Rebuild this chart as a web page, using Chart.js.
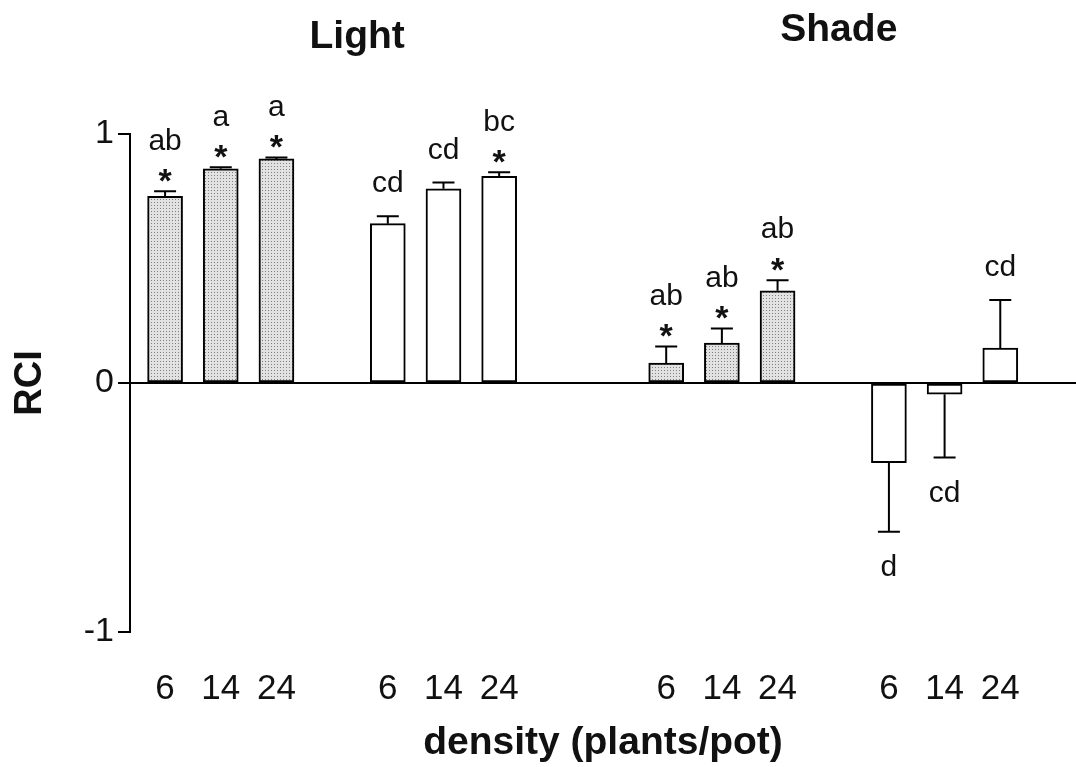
<!DOCTYPE html>
<html><head><meta charset="utf-8">
<script src="https://cdn.jsdelivr.net/npm/chart.js@4/dist/chart.umd.min.js"></script>
<style>html,body{margin:0;padding:0;background:#fff}#wrap{width:1076px;height:767px}</style>
</head><body><div id="wrap"><canvas id="c" width="1076" height="767"></canvas></div>
<script>
// ---- data ----
const categories = ['6','14','24','','6','14','24','','','6','14','24','','6','14','24'];
const rci        = [0.75,0.86,0.90,null,0.64,0.78,0.83,null,null,0.08,0.16,0.37,null,-0.32,-0.045,0.14];
const errors     = [0.02,0.006,0.006,null,0.03,0.025,0.016,null,null,0.067,0.059,0.043,null,0.277,0.254,0.193];
const letters    = ['ab','a','a','','cd','cd','bc','','','ab','ab','ab','','d','cd','cd'];
const stars      = [1,1,1,0,0,0,1,0,0,1,1,1,0,0,0,0];
const stippled   = [1,1,1,0,0,0,0,0,0,1,1,1,0,0,0,0];
const panelTitles = ['Light','Shade'];
const yTicks = [-1,0,1];

const FONT = '"Liberation Sans", Arial, Helvetica, sans-serif';

function stipple(){
  const c=document.createElement('canvas'); c.width=3; c.height=3;
  const g=c.getContext('2d');
  g.fillStyle='#e2e2e2'; g.fillRect(0,0,3,3);
  g.fillStyle='#808080'; g.fillRect(1,1,1,1);
  return g.createPattern(c,'repeat');
}
const pat = stipple();

const points = [];
categories.forEach((c,i)=>{ if(rci[i]!==null) points.push({x:i,y:rci[i]}); });

const annot = {
  id:'annot',
  afterDatasetsDraw(chart){
    const ctx=chart.ctx, xs=chart.scales.x, ys=chart.scales.y;
    const meta=chart.getDatasetMeta(0);
    ctx.save();
    ctx.strokeStyle='#000'; ctx.fillStyle='#111'; ctx.lineWidth=2;
    meta.data.forEach((el,k)=>{
      const i=points[k].x, v=rci[i], e=errors[i];
      const sgn = v>=0?1:-1;
      const yEnd = ys.getPixelForValue(v+sgn*e);
      const x=el.x;
      ctx.beginPath();
      ctx.moveTo(x,el.y); ctx.lineTo(x,yEnd);
      ctx.moveTo(x-11,yEnd); ctx.lineTo(x+11,yEnd);
      ctx.stroke();
      ctx.textAlign='center'; ctx.textBaseline='middle';
      if(sgn>0){
        let y=yEnd;
        if(stars[i]){
          y-=16;
          ctx.font='bold 34px '+FONT;
          ctx.fillText('*',x,y+7);
          y-=34;
        } else y-=32;
        ctx.font='30px '+FONT;
        ctx.fillText(letters[i],x,y);
      } else {
        ctx.font='30px '+FONT;
        ctx.fillText(letters[i],x,yEnd+36);
      }
    });
    ctx.font='bold 39px '+FONT;
    ctx.fillStyle='#111';
    ctx.fillText(panelTitles[0], xs.getPixelForValue(3.45), 37);
    ctx.fillText(panelTitles[1], xs.getPixelForValue(12.1), 30);
    ctx.restore();
  }
};

new Chart(document.getElementById('c'),{
  type:'bar',
  data:{datasets:[{
    data:points,
    backgroundColor:(c)=> (c.raw && stippled[c.raw.x]) ? pat : '#ffffff',
    borderColor:'#000', borderWidth:2, borderSkipped:false,
    barThickness:35
  }]},
  options:{
    responsive:false, animation:false, devicePixelRatio:1,
    layout:{padding:{top:134,left:0,right:0,bottom:0}},
    plugins:{legend:{display:false}, tooltip:{enabled:false}},
    scales:{
      x:{
        type:'linear', min:-0.63, max:16.36, offset:false, bounds:'ticks',
        afterBuildTicks:(s)=>{ s.ticks = categories.map((c,i)=>({value:i})).filter(t=>categories[t.value]!==''); },
        afterFit:(s)=>{ s.height = 135; },
        ticks:{callback:(v)=>categories[v], autoSkip:false, maxRotation:0, padding:36,
               font:{family:FONT,size:35}, color:'#111'},
        grid:{display:false, drawTicks:false, offset:false},
        border:{display:false},
        title:{display:true, text:'density (plants/pot)', font:{family:FONT,size:39,weight:'bold'}, color:'#111', padding:{bottom:0}}
      },
      y:{
        min:-1, max:1,
        afterBuildTicks:(s)=>{ s.ticks = yTicks.map(v=>({value:v})); },
        afterFit:(s)=>{ s.width = 130; },
        ticks:{font:{family:FONT,size:34}, color:'#111', padding:4},
        grid:{color:(c)=> (c.tick && c.tick.value===0) ? '#000' : 'rgba(0,0,0,0)', lineWidth:2, tickColor:'#000', tickLength:12},
        border:{display:true, color:'#000', width:2},
        title:{display:true, text:'RCI', font:{family:FONT,size:38,weight:'bold'}, color:'#111', padding:{top:8}}
      }
    }
  },
  plugins:[annot]
});
</script></body></html>
